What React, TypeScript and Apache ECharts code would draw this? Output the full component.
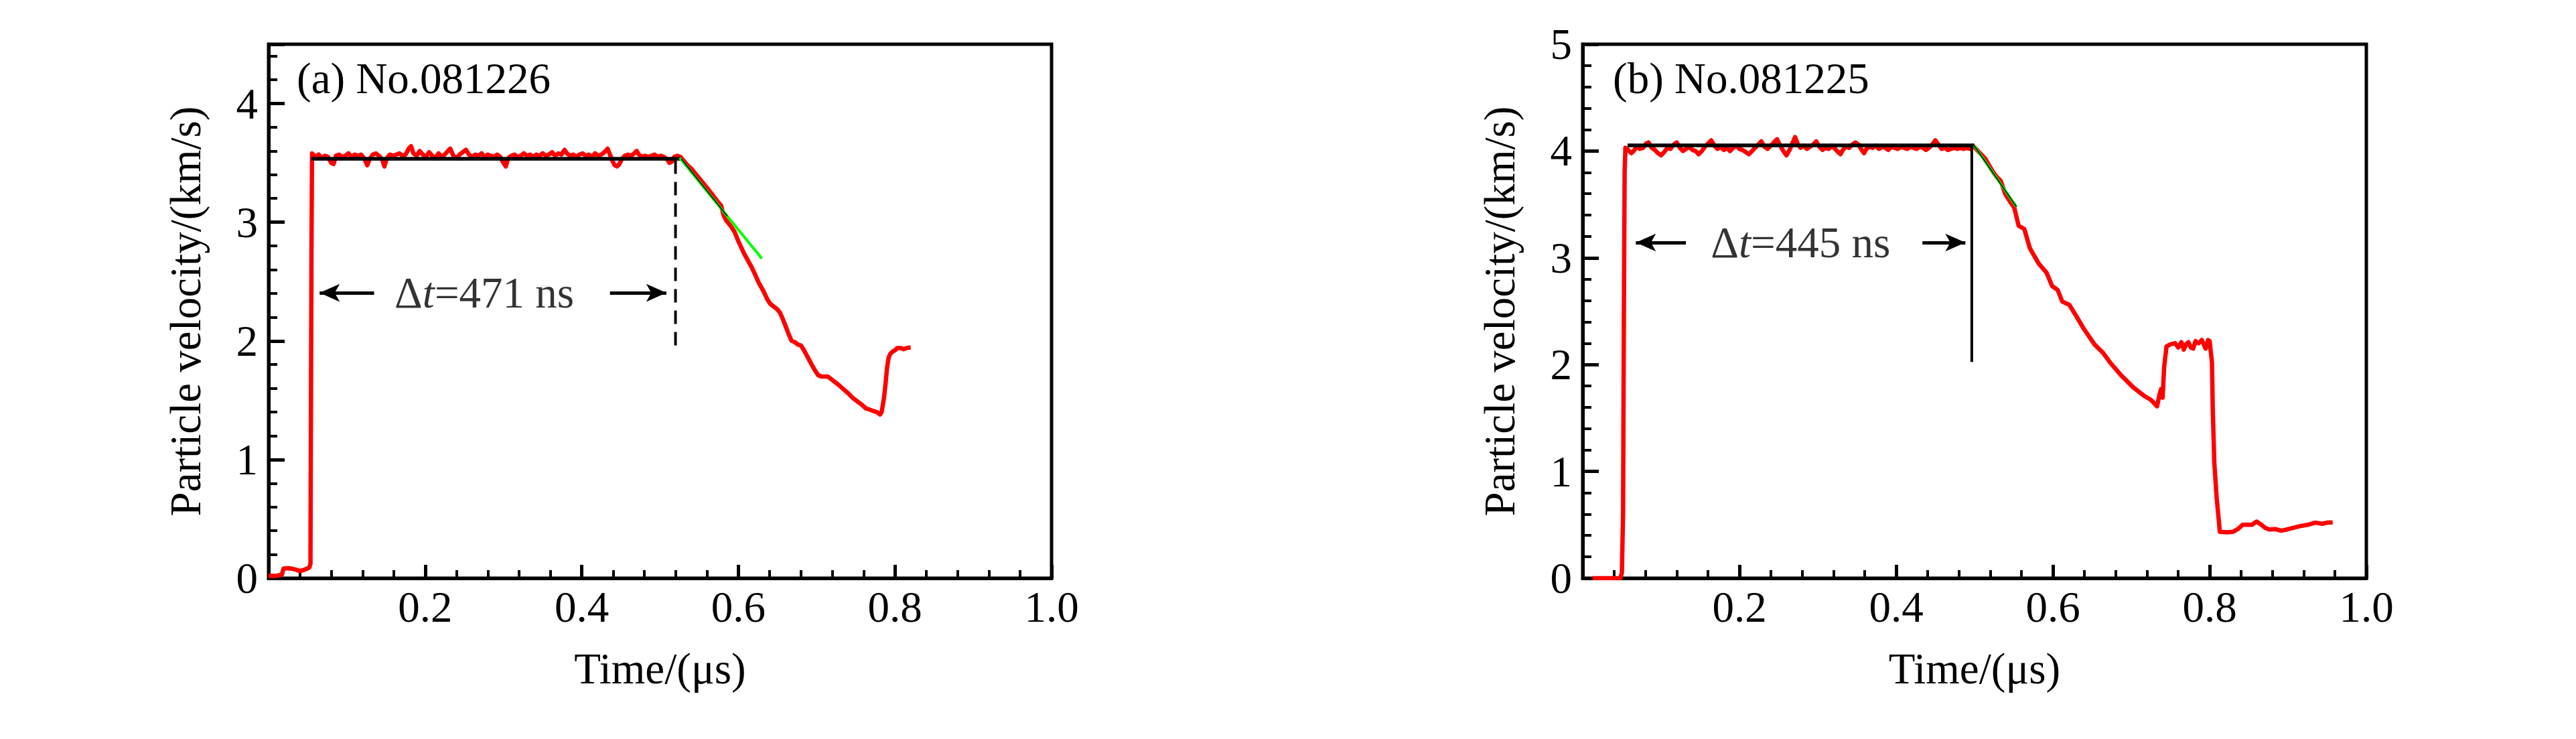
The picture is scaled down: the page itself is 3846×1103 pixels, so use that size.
import React, { useEffect, useRef } from "react";
import * as echarts from "echarts";

const FONT = "'Liberation Serif', 'Times New Roman', serif";

// Panel titles and annotation texts
const titleA = "(a) No.081226";
const titleB = "(b) No.081225";
const deltaA = "471 ns";
const deltaB = "445 ns";
const xName = "Time/(μs)";
const yName = "Particle velocity/(km/s)";

// (a) measured particle velocity [time µs, velocity km/s]
const redA: number[][] = [
  [0.000, 0.02], [0.010, 0.02], [0.017, 0.03], [0.019, 0.08], [0.024, 0.085], [0.030, 0.08], [0.036, 0.07],
  [0.040, 0.06], [0.045, 0.07], [0.049, 0.08], [0.052, 0.09], [0.0535, 0.12], [0.054, 1.2], [0.0548, 2.8], [0.0555, 3.58],
  [0.060, 3.55], [0.064, 3.57], [0.068, 3.54], [0.072, 3.56], [0.076, 3.55], [0.080, 3.50], [0.083, 3.49], [0.086, 3.56],
  [0.090, 3.57], [0.094, 3.55], [0.098, 3.56], [0.102, 3.58], [0.106, 3.55], [0.110, 3.57], [0.114, 3.56], [0.118, 3.57],
  [0.122, 3.54], [0.126, 3.48], [0.129, 3.53], [0.133, 3.57], [0.137, 3.58], [0.141, 3.56], [0.145, 3.53], [0.148, 3.47],
  [0.151, 3.54], [0.155, 3.57], [0.159, 3.56], [0.163, 3.57], [0.167, 3.58], [0.171, 3.56], [0.175, 3.57], [0.179, 3.62],
  [0.182, 3.64], [0.185, 3.58], [0.189, 3.56], [0.193, 3.60], [0.197, 3.57], [0.201, 3.55], [0.205, 3.59], [0.209, 3.56],
  [0.213, 3.54], [0.217, 3.58], [0.221, 3.55], [0.225, 3.57], [0.229, 3.60], [0.232, 3.62], [0.236, 3.56], [0.240, 3.54],
  [0.244, 3.57], [0.248, 3.59], [0.252, 3.61], [0.256, 3.57], [0.260, 3.55], [0.264, 3.57], [0.268, 3.56], [0.272, 3.58],
  [0.276, 3.55], [0.280, 3.57], [0.284, 3.56], [0.288, 3.55], [0.292, 3.57], [0.296, 3.55], [0.300, 3.50], [0.303, 3.47],
  [0.306, 3.54], [0.310, 3.56], [0.314, 3.57], [0.318, 3.55], [0.322, 3.56], [0.326, 3.58], [0.330, 3.56], [0.334, 3.57],
  [0.338, 3.55], [0.342, 3.57], [0.346, 3.56], [0.350, 3.58], [0.354, 3.56], [0.358, 3.57], [0.362, 3.59], [0.366, 3.56],
  [0.370, 3.58], [0.374, 3.57], [0.378, 3.61], [0.381, 3.58], [0.385, 3.56], [0.389, 3.57], [0.393, 3.55], [0.397, 3.57],
  [0.401, 3.58], [0.405, 3.56], [0.409, 3.57], [0.413, 3.55], [0.417, 3.58], [0.421, 3.56], [0.425, 3.57], [0.429, 3.59],
  [0.433, 3.62], [0.436, 3.57], [0.439, 3.52], [0.442, 3.48], [0.445, 3.47], [0.448, 3.49], [0.451, 3.53], [0.455, 3.56],
  [0.459, 3.57], [0.463, 3.56], [0.467, 3.58], [0.470, 3.60], [0.473, 3.57], [0.477, 3.55], [0.481, 3.56], [0.485, 3.55],
  [0.489, 3.56], [0.493, 3.57], [0.497, 3.55], [0.501, 3.56], [0.505, 3.55], [0.509, 3.53], [0.512, 3.50], [0.515, 3.51],
  [0.518, 3.55], [0.522, 3.56], [0.526, 3.55],
  [0.530, 3.52], [0.535, 3.48], [0.540, 3.45], [0.545, 3.41], [0.550, 3.37], [0.555, 3.33], [0.560, 3.29], [0.566, 3.24],
  [0.5727, 3.18], [0.578, 3.14], [0.581, 3.06], [0.584, 3.02], [0.590, 2.97], [0.595, 2.92], [0.600, 2.84], [0.607, 2.74],
  [0.612, 2.68], [0.617, 2.62], [0.622, 2.55], [0.626, 2.49], [0.632, 2.42], [0.637, 2.35], [0.641, 2.31], [0.645, 2.29],
  [0.649, 2.27], [0.653, 2.24], [0.657, 2.18], [0.660, 2.13], [0.664, 2.06], [0.668, 2.00], [0.672, 1.99], [0.676, 1.97],
  [0.680, 1.96], [0.683, 1.93], [0.688, 1.87], [0.692, 1.82], [0.697, 1.76], [0.702, 1.71], [0.706, 1.70], [0.710, 1.70],
  [0.714, 1.70], [0.718, 1.68], [0.722, 1.66], [0.726, 1.64], [0.733, 1.60], [0.740, 1.56], [0.746, 1.52], [0.752, 1.49],
  [0.758, 1.46], [0.763, 1.43], [0.768, 1.42], [0.772, 1.41], [0.777, 1.40], [0.781, 1.38], [0.783, 1.40], [0.786, 1.52],
  [0.788, 1.64], [0.790, 1.78], [0.792, 1.86], [0.794, 1.89], [0.797, 1.91], [0.800, 1.92], [0.803, 1.94], [0.807, 1.94],
  [0.811, 1.93], [0.815, 1.94], [0.820, 1.945],
];

// (a) fitted lines
const fitFlatA: number[][] = [[0.0547, 3.534], [0.527, 3.534]];
const fitSlopeA: number[][] = [[0.527, 3.534], [0.586, 3.05]];
const greenA: number[][] = [[0.525, 3.543], [0.630, 2.694]];
const dropA: number[][] = [[0.5197, 3.52], [0.5197, 1.91]];
const arrowYA = 2.405;
const arrowLeftA = [0.1348, 0.0652];
const arrowRightA = [0.436, 0.508];
const labelPosA = [0.2755, 2.405];

// (b) measured particle velocity
const redB: number[][] = [
  [0.0125, 0.0], [0.030, 0.0], [0.048, 0.0], [0.050, 0.05], [0.0515, 0.6], [0.0525, 2.4], [0.0535, 3.8], [0.0545, 4.03],
  [0.058, 4.01], [0.062, 3.98], [0.065, 4.00], [0.069, 4.04], [0.073, 4.02], [0.077, 4.03], [0.081, 4.07], [0.084, 4.08],
  [0.088, 4.03], [0.092, 4.01], [0.096, 3.98], [0.100, 3.96], [0.104, 3.99], [0.108, 4.03], [0.112, 4.02], [0.116, 4.06],
  [0.120, 4.08], [0.124, 4.03], [0.128, 4.00], [0.132, 4.02], [0.136, 4.04], [0.140, 4.01], [0.144, 4.00], [0.148, 3.97],
  [0.152, 4.00], [0.156, 4.04], [0.160, 4.07], [0.164, 4.10], [0.168, 4.05], [0.172, 4.02], [0.176, 4.04], [0.180, 4.01],
  [0.184, 4.03], [0.188, 4.00], [0.192, 4.03], [0.196, 4.05], [0.200, 4.02], [0.204, 4.01], [0.208, 3.99], [0.212, 3.97],
  [0.216, 4.00], [0.220, 4.03], [0.224, 4.06], [0.228, 4.09], [0.232, 4.04], [0.236, 4.02], [0.240, 4.05], [0.244, 4.08],
  [0.248, 4.11], [0.252, 4.05], [0.256, 4.00], [0.260, 3.96], [0.264, 4.01], [0.268, 4.08], [0.271, 4.13], [0.274, 4.07],
  [0.278, 4.03], [0.282, 4.05], [0.286, 4.02], [0.290, 4.04], [0.294, 4.06], [0.298, 4.09], [0.302, 4.04], [0.306, 4.01],
  [0.310, 4.03], [0.314, 4.02], [0.318, 4.05], [0.322, 4.02], [0.326, 3.99], [0.329, 3.97], [0.332, 4.01], [0.336, 4.04],
  [0.340, 4.03], [0.344, 4.06], [0.348, 4.08], [0.352, 4.06], [0.356, 4.01], [0.359, 3.98], [0.362, 4.02], [0.366, 4.04],
  [0.370, 4.03], [0.374, 4.05], [0.378, 4.02], [0.382, 4.04], [0.386, 4.03], [0.390, 4.01], [0.394, 4.04], [0.398, 4.03],
  [0.402, 4.02], [0.406, 4.04], [0.410, 4.03], [0.414, 4.02], [0.418, 4.04], [0.422, 4.03], [0.426, 4.02], [0.430, 4.04],
  [0.434, 4.03], [0.438, 4.01], [0.442, 4.03], [0.446, 4.06], [0.450, 4.10], [0.454, 4.06], [0.458, 4.02], [0.462, 4.03],
  [0.466, 4.01], [0.470, 4.02], [0.474, 4.03], [0.478, 4.02], [0.482, 4.03], [0.486, 4.02], [0.490, 4.03], [0.494, 4.02],
  [0.498, 4.05],
  [0.502, 4.02], [0.507, 3.98], [0.5135, 3.93], [0.519, 3.86], [0.524, 3.80], [0.528, 3.76], [0.5335, 3.72], [0.539, 3.60],
  [0.545, 3.53], [0.5507, 3.47], [0.5563, 3.30], [0.5635, 3.27], [0.5706, 3.09], [0.582, 2.945], [0.592, 2.86], [0.599, 2.735],
  [0.606, 2.70], [0.612, 2.59], [0.621, 2.56], [0.631, 2.44], [0.639, 2.34], [0.653, 2.19], [0.664, 2.11], [0.673, 2.02],
  [0.687, 1.90], [0.702, 1.79], [0.716, 1.71], [0.725, 1.67], [0.733, 1.61], [0.736, 1.72], [0.738, 1.77], [0.740, 1.69],
  [0.742, 1.98], [0.745, 2.17], [0.750, 2.19], [0.756, 2.20], [0.760, 2.16], [0.764, 2.21], [0.767, 2.14], [0.770, 2.19],
  [0.773, 2.21], [0.776, 2.16], [0.779, 2.15], [0.782, 2.22], [0.786, 2.20], [0.790, 2.23], [0.793, 2.18], [0.795, 2.15],
  [0.798, 2.23], [0.800, 2.22], [0.803, 2.02], [0.804, 1.585], [0.806, 1.08], [0.809, 0.75], [0.812, 0.52], [0.813, 0.435],
  [0.822, 0.43], [0.830, 0.435], [0.836, 0.46], [0.842, 0.50], [0.854, 0.50], [0.860, 0.53], [0.866, 0.50], [0.871, 0.47],
  [0.876, 0.456], [0.884, 0.46], [0.891, 0.445], [0.898, 0.455], [0.904, 0.467], [0.915, 0.487], [0.925, 0.50], [0.935, 0.52],
  [0.944, 0.51], [0.950, 0.52], [0.957, 0.523],
];

// (b) fitted lines
const fitFlatB: number[][] = [[0.0573, 4.053], [0.4993, 4.053]];
const fitSlopeB: number[][] = [[0.4993, 4.053], [0.5535, 3.478]];
const greenB: number[][] = [[0.4993, 4.053], [0.5535, 3.478]];
const dropB: number[][] = [[0.4965, 4.05], [0.4965, 2.025]];
const arrowYB = 3.143;
const arrowLeftB = [0.1317, 0.0678];
const arrowRightB = [0.4335, 0.4883];
const labelPosB = [0.278, 3.143];

const yMaxA = 4.5;
const yMaxB = 5;

function App() {
  const ref = useRef<HTMLDivElement>(null);

  useEffect(() => {
    if (!ref.current) return;
    const chart = echarts.init(ref.current, null, { renderer: "svg" });

    const axisText = { color: "#000", fontFamily: FONT, fontSize: 65 };

    const makeX = (gridIndex: number) => ({
      type: "value",
      gridIndex,
      min: 0,
      max: 1,
      interval: 0.2,
      name: xName,
      nameLocation: "middle",
      nameGap: 102,
      nameTextStyle: axisText,
      axisLine: { show: true, onZero: false, lineStyle: { color: "#000", width: 5 } },
      axisTick: { show: true, inside: true, length: 20, lineStyle: { color: "#000", width: 5 } },
      minorTick: { show: true, splitNumber: 5, length: 12, lineStyle: { color: "#000", width: 4 } },
      splitLine: { show: false },
      minorSplitLine: { show: false },
      axisLabel: {
        ...axisText,
        margin: 10,
        formatter: (v: number) => (v === 0 ? "" : v.toFixed(1)),
      },
    });

    const makeY = (gridIndex: number, max: number) => ({
      type: "value",
      gridIndex,
      min: 0,
      max,
      interval: 1,
      name: yName,
      nameLocation: "middle",
      nameGap: 92,
      nameTextStyle: axisText,
      axisLine: { show: true, onZero: false, lineStyle: { color: "#000", width: 5 } },
      axisTick: { show: true, inside: true, length: 24, lineStyle: { color: "#000", width: 5 } },
      minorTick: { show: true, splitNumber: 5, length: 13, lineStyle: { color: "#000", width: 4 } },
      splitLine: { show: false },
      minorSplitLine: { show: false },
      axisLabel: {
        ...axisText,
        margin: 16,
        formatter: (v: number) => (Math.abs(v - Math.round(v)) < 1e-9 ? String(Math.round(v)) : ""),
      },
    });

    const lineS = (idx: number, data: number[][], color: string, width: number, z: number, type: any = "solid") => ({
      type: "line",
      xAxisIndex: idx,
      yAxisIndex: idx,
      data,
      showSymbol: false,
      symbol: "none",
      silent: true,
      z,
      lineStyle: { color, width, type, cap: "butt", join: "round" },
    });

    const arrowLines = (y: number, left: number[], right: number[]) => ({
      silent: true,
      symbol: ["none", "arrow"],
      symbolSize: [20, 30],
      label: { show: false },
      lineStyle: { color: "#000", width: 5, type: "solid" },
      data: [
        [{ coord: [left[0], y] }, { coord: [left[1], y] }],
        [{ coord: [right[0], y] }, { coord: [right[1], y] }],
      ],
    });

    const deltaLabel = (idx: number, pos: number[], ns: string) => ({
      type: "scatter",
      xAxisIndex: idx,
      yAxisIndex: idx,
      data: [pos],
      symbolSize: 1,
      itemStyle: { color: "rgba(0,0,0,0)" },
      silent: true,
      z: 10,
      label: {
        show: true,
        position: "inside",
        formatter: "{n|Δ}{i|t}{n|=" + ns + "}",
        rich: {
          n: { fontFamily: FONT, fontSize: 65, color: "#000" },
          i: { fontFamily: FONT, fontSize: 65, color: "#000", fontStyle: "italic" },
        },
      },
    });

    const dashA: any = lineS(0, dropA, "#000", 4, 4, [20, 12]);
    dashA.markLine = arrowLines(arrowYA, arrowLeftA, arrowRightA);
    const solidB: any = lineS(1, dropB, "#000", 4, 4);
    solidB.markLine = arrowLines(arrowYB, arrowLeftB, arrowRightB);

    chart.setOption({
      animation: false,
      backgroundColor: "#fff",
      grid: [
        { left: 401, top: 66, width: 1169, height: 797, show: true, borderColor: "#000", borderWidth: 5, backgroundColor: "transparent" },
        { left: 2363, top: 66, width: 1170, height: 797, show: true, borderColor: "#000", borderWidth: 5, backgroundColor: "transparent" },
      ],
      xAxis: [makeX(0), makeX(1)],
      yAxis: [makeY(0, yMaxA), makeY(1, yMaxB)],
      graphic: [
        { type: "text", left: 443, top: 84, style: { text: titleA, fontFamily: FONT, fontSize: 65, fill: "#000" } },
        { type: "text", left: 2408, top: 84, style: { text: titleB, fontFamily: FONT, fontSize: 65, fill: "#000" } },
      ],
      series: [
        lineS(0, redA, "#ff0000", 6.5, 2),
        lineS(0, fitFlatA, "#000", 5.5, 3),
        lineS(0, greenA, "#00ff00", 4, 4),
        lineS(0, fitSlopeA, "#000", 1.5, 5),
        dashA,
        deltaLabel(0, labelPosA, deltaA),
        lineS(1, redB, "#ff0000", 6.5, 2),
        lineS(1, fitFlatB, "#000", 5.5, 3),
        lineS(1, greenB, "#00ff00", 4, 4),
        lineS(1, fitSlopeB, "#000", 1.5, 5),
        solidB,
        deltaLabel(1, labelPosB, deltaB),
      ],
    });

    return () => chart.dispose();
  }, []);

  return (
    <div
      ref={ref}
      style={{ position: "absolute", left: 0, top: 0, width: 3846, height: 1103, background: "#fff" }}
    />
  );
}

export default App;
